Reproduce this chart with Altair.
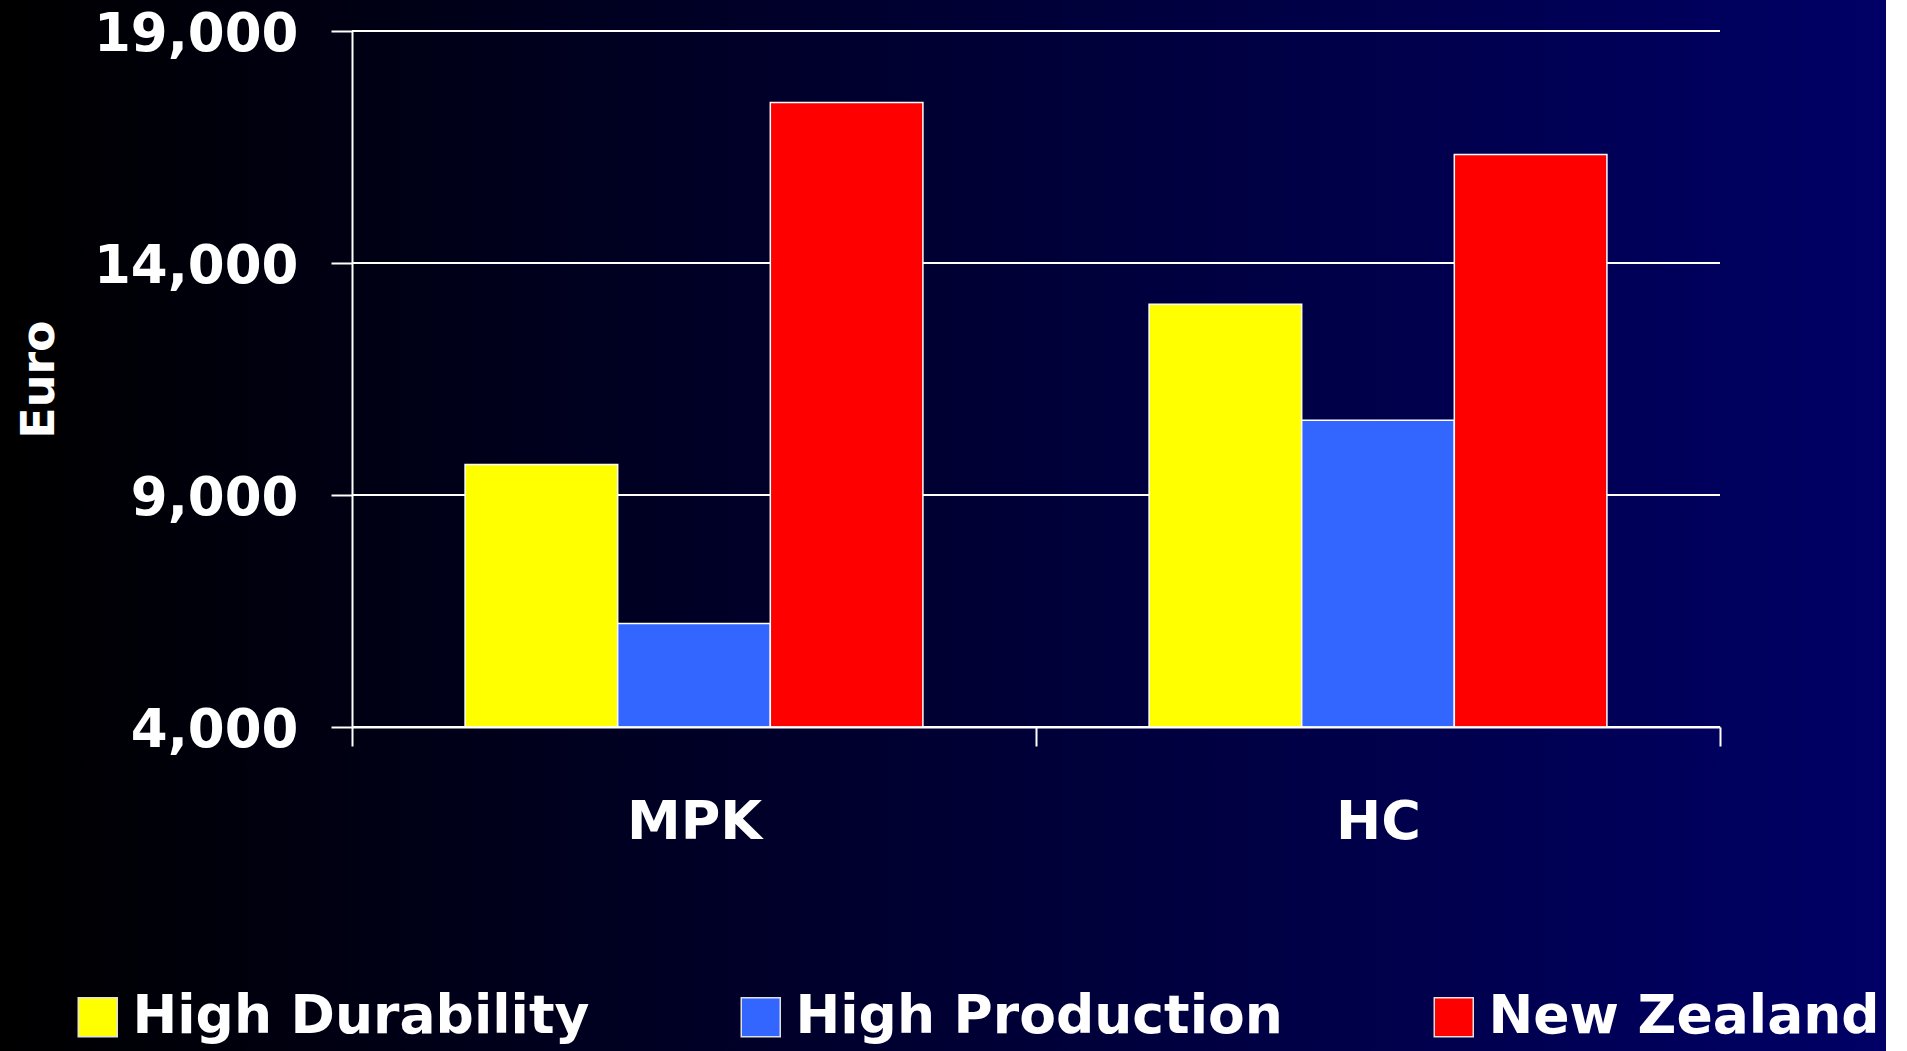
import altair as alt
import pandas as pd

# Costs per system (Euro)
categories = ["MPK", "HC"]
series = ["High Durability", "High Production", "New Zealand"]
high_durability = [9660, 13110]
high_production = [6230, 10610]
new_zealand = [17460, 16340]
series_colors = ["#ffff00", "#3366ff", "#ff0000"]
y_ticks = [4000, 9000, 14000, 19000]

rows = []
for name, vals in zip(series, [high_durability, high_production, new_zealand]):
    for cat, v in zip(categories, vals):
        rows.append({"system": cat, "variant": name, "euro": v})
df = pd.DataFrame(rows)

W, H = 1368, 696
PAD = {"left": 352, "top": 31, "right": 166, "bottom": 324}
FONT = "DejaVu Sans"
y_scale = alt.Scale(domain=[4000, 19000], zero=False, nice=False)

y_axis = alt.Axis(
    values=y_ticks, format=",d", grid=False,
    domainColor="#ffffff", domainWidth=2,
    tickColor="#ffffff", tickWidth=2, tickSize=21,
    labelColor="#ffffff", labelFont=FONT, labelFontSize=53,
    labelFontWeight="bold", labelPadding=33, labelLimit=400,
    labelOffset=3,
    titleColor="#ffffff", titleFont=FONT, titleFontSize=46,
    titleFontWeight="bold", titleAngle=270,
    titleAlign="center", titleBaseline="alphabetic",
    titleX=-299, titleY=348, zindex=1,
)

# full-canvas horizontal gradient backdrop
backdrop = alt.Chart(pd.DataFrame({"k": [0]})).mark_rect(
    color=alt.Gradient(
        gradient="linear",
        stops=[alt.GradientStop(color="#000000", offset=0),
               alt.GradientStop(color="#000066", offset=1)],
        x1=0, x2=1, y1=0, y2=0,
    )
).encode(
    x=alt.value(-PAD["left"]),
    x2=alt.value(W + PAD["right"]),
    y=alt.value(-PAD["top"]),
    y2=alt.value(H + PAD["bottom"]),
)

# horizontal gridlines, kept behind the bars
grid = alt.Chart(pd.DataFrame({"v": y_ticks})).mark_rule(
    color="#ffffff", strokeWidth=2
).encode(
    y=alt.Y("v:Q", scale=y_scale, axis=y_axis, title="Euro"),
)

bars = alt.Chart(df).mark_bar(
    stroke="#ffffff", strokeWidth=1.5, opacity=1
).encode(
    x=alt.X(
        "system:N",
        sort=categories,
        scale=alt.Scale(paddingInner=0, paddingOuter=0),
        axis=alt.Axis(
            title=None, labelAngle=0, tickBand="extent",
            domainColor="#ffffff", domainWidth=2,
            tickColor="#ffffff", tickWidth=2, tickSize=19,
            labelColor="#ffffff", labelFont=FONT, labelFontSize=54,
            labelFontWeight="bold", labelPadding=49, zindex=1,
        ),
    ),
    xOffset=alt.XOffset(
        "variant:N", sort=series,
        scale=alt.Scale(paddingInner=0, paddingOuter=0.741),
    ),
    y=alt.Y("euro:Q", scale=y_scale, title="Euro", axis=y_axis),
    y2=alt.datum(4000),
    color=alt.Color(
        "variant:N",
        sort=series,
        scale=alt.Scale(domain=series, range=series_colors),
        legend=alt.Legend(
            title=None, orient="none", direction="horizontal",
            legendX=-281, legendY=959, padding=0,
            columnPadding=144, symbolType="square", symbolSize=1521,
            symbolStrokeColor="#e0e0e0", symbolStrokeWidth=1.5,
            symbolOpacity=1, labelOffset=8, labelLimit=1000,
            labelColor="#ffffff", labelFont=FONT, labelFontSize=53.5,
            labelFontWeight="bold",
        ),
    ),
)

chart = alt.layer(backdrop, grid, bars).properties(
    width=W,
    height=H,
    autosize=alt.AutoSizeParams(type="none"),
    padding=PAD,
).configure_view(stroke=None).configure(background="#ffffff")

chart.save("out.html", embed_options={"renderer": "svg", "actions": False})
